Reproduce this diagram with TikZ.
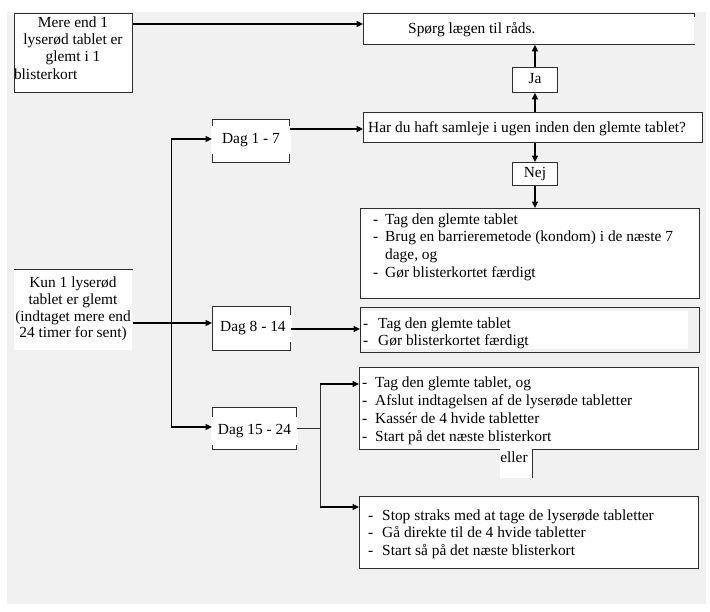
\documentclass[tikz,border=0pt]{standalone}
\usepackage{fontspec}
\setmainfont{Liberation Serif}
\usetikzlibrary{arrows.meta}
\definecolor{bg}{HTML}{F1F1F1}
\definecolor{ln}{HTML}{2E2E2E}
\tikzset{
  bx/.style={draw=ln, line width=0.9pt, fill=white, inner sep=0pt, anchor=north west},
  arr/.style={line width=1.3pt, -{Triangle[length=6.5pt,width=6pt]}},
  thinln/.style={line width=0.6pt, draw=ln},
  band/.style={fill=white, inner sep=0pt, text height=10.5pt, text depth=3.5pt},
  tl/.style={inner sep=0pt, anchor=north west},
}
\begin{document}
\begin{tikzpicture}[x=1pt,y=-1pt, font=\fontsize{15.4}{17.7}\selectfont]
\useasboundingbox (0,0) rectangle (710,611);
\fill[white] (0,0) rectangle (710,611);
\fill[bg] (7,12) rectangle (706,604);

% left boxes
\node[bx, minimum width=118pt, minimum height=79pt] (mere) at (14,13) {};
\node[inner sep=0pt, anchor=north] (meretxt) at (73,15.2) {\fontsize{15.4}{17.2}\selectfont\begin{tabular}{@{}c@{}}\makebox[118pt]{Mere end 1}\\ lyserød tablet er\\ glemt i 1\\ \multicolumn{1}{@{}l@{}}{blisterkort}\end{tabular}};

\node[bx, draw=none, minimum width=118pt, minimum height=81pt] (kun) at (14,269) {};
\draw[draw=ln, line width=0.9pt] (kun.north west) -- (kun.north east);
\node[inner sep=0pt, anchor=north] (kuntxt) at (73,275.2) {\fontsize{15.4}{16.9}\selectfont\begin{tabular}{@{}c@{}}Kun 1 lyserød\\ tablet er glemt\\ (indtaget mere end\\ 24 timer for sent)\end{tabular}};

% top right
\node[bx, draw=none, minimum width=331pt, minimum height=31pt] (sporg) at (363,13) {};
\draw[draw=ln, line width=0.9pt] ([yshift=-4pt]sporg.north east) -- (sporg.north east) -- (sporg.north west) -- (sporg.south west) -- (sporg.south east);
\node[inner sep=0pt, anchor=base west] (sporgtxt) at (408,33) {Spørg lægen til råds.};

\node[bx, minimum width=45pt, minimum height=25pt, text height=10.5pt, text depth=3.5pt] (ja) at (512,67) {Ja};
\node[bx, minimum width=339pt, minimum height=30pt] (har) at (363,112) {};
\node[inner sep=0pt, anchor=base west] (hartxt) at (368,132) {Har du haft samleje i ugen inden den glemte tablet?};
\node[bx, minimum width=45pt, minimum height=23pt, text height=10.5pt, text depth=3.5pt] (nej) at (512,162) {Nej};

% Dag boxes
\node[bx, minimum width=77pt, minimum height=43pt] (d1) at (212,119) {};
\node[band, minimum width=80pt, minimum height=28pt] (d1t) at ([yshift=1pt]d1.center) {Dag 1 - 7};
\node[bx, minimum width=78pt, minimum height=44pt] (d2) at (212,306) {};
\node[band, minimum width=78pt, minimum height=27pt] (d2t) at ([xshift=1.5pt]d2.center) {Dag 8 - 14};
\node[bx, minimum width=84pt, minimum height=42pt] (d3) at (212,407) {};
\node[band, minimum width=87pt, minimum height=28pt] (d3t) at ([yshift=-3pt]d3.center) {Dag 15 - 24};

% action boxes
\node[bx, minimum width=339pt, minimum height=90pt] (b1) at (360,208) {};
\node[tl] (b1t) at (373,211.6) {\begin{tabular}{@{}p{12pt}@{}l@{}}-&Tag den glemte tablet\\ -&Brug en barrieremetode (kondom) i de næste 7\\ &dage, og\\ -&Gør blisterkortet færdigt\end{tabular}};

\node[bx, fill=none, minimum width=339pt, minimum height=45pt] (b2) at (360,307) {};
\fill[white] ([shift={(2pt,-4pt)}]b2.north west) rectangle ([shift={(-12pt,4pt)}]b2.south east);
\node[tl] (b2t) at (363,315.6) {\begin{tabular}{@{}p{15pt}@{}l@{}}-&Tag den glemte tablet\\ -&Gør blisterkortet færdigt\end{tabular}};

\node[bx, minimum width=339pt, minimum height=82pt] (b3) at (359,367) {};
\node[tl] (b3t) at (362,374.6) {\fontsize{15.4}{18}\selectfont\begin{tabular}{@{}p{13pt}@{}l@{}}-&Tag den glemte tablet, og\\ -&Afslut indtagelsen af de lyserøde tabletter\\ -&Kassér de 4 hvide tabletter\\ -&Start på det næste blisterkort\end{tabular}};

\node[fill=white, inner sep=0pt, anchor=north west, minimum width=32pt, minimum height=29pt] (ellerbox) at (500,448.5) {};
\draw[thinln, line width=0.9pt] (ellerbox.north east) -- (ellerbox.south east);
\node[inner sep=0pt, anchor=base] (eller) at (514,462) {eller};

\node[bx, minimum width=339pt, minimum height=72pt] (b4) at (359,496) {};
\node[tl] (b4t) at (368,507.6) {\begin{tabular}{@{}p{14pt}@{}l@{}}-&Stop straks med at tage de lyserøde tabletter\\ -&Gå direkte til de 4 hvide tabletter\\ -&Start så på det næste blisterkort\end{tabular}};

% connectors
\draw[arr] ([yshift=-11pt]mere.north east) -- ([yshift=-11pt]mere.north east -| sporg.west);
\draw[arr] (ja.south |- har.north) -- (ja.south);
\draw[arr] (ja.north) -- (ja.north |- sporg.south);
\draw[arr] (nej.north |- har.south) -- (nej.north);
\draw[arr] (nej.south) -- (nej.south |- b1.north);
\draw[arr] ([yshift=-10pt]d1.north east) -- ([yshift=-10pt]d1.north east -| har.west);

\coordinate (vt) at (171,139);
\coordinate (vb) at (171,427);
\draw[line width=1pt] (vt) -- (vb);
\draw[arr] (vt) -- (vt -| d1.west);
\draw[arr] (vb) -- (vb -| d3.west);
\draw[arr] ([yshift=-54pt]kun.north east) -- ([yshift=-54pt]kun.north east -| d2.west);
\draw[arr] ([yshift=-23pt]d2.north east) -- ([yshift=-23pt]d2.north east -| b2.west);

\coordinate (jt) at (320,384);
\coordinate (jb) at (320,507);
\draw[thinln] (d3.east) -- (d3.east -| jt);
\draw[thinln] (jt) -- (jb);
\draw[arr] (jt) -- (jt -| b3.west);
\draw[arr] (jb) -- (jb -| b4.west);
\end{tikzpicture}
\end{document}
